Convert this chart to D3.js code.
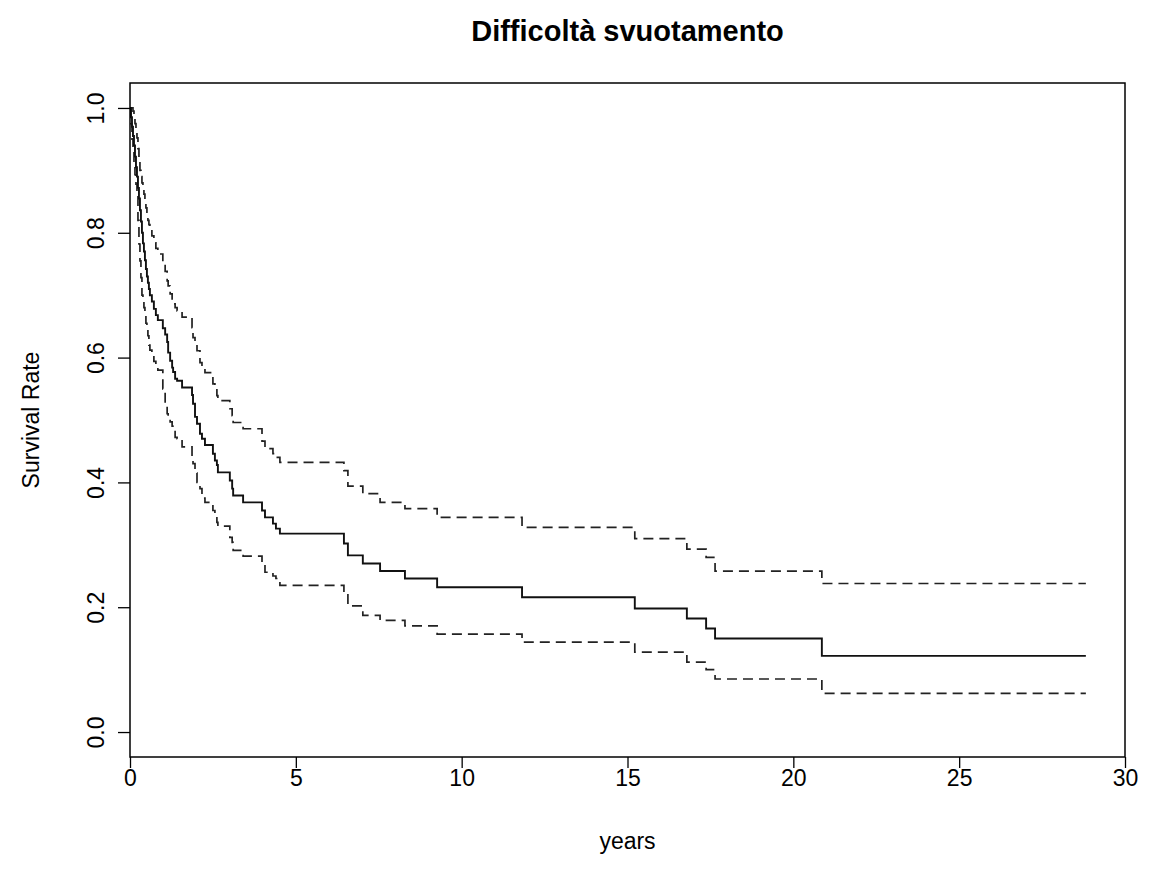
<!DOCTYPE html>
<html>
<head>
<meta charset="utf-8">
<script src="https://cdn.jsdelivr.net/npm/d3@7"></script>
<style>
  body { margin: 0; background: #fff; }
  text { font-family: "Liberation Sans", Arial, sans-serif; fill: #000; }
</style>
</head>
<body>
<svg id="km"></svg>
<script>
// Kaplan-Meier estimate with confidence band.
const times = [0, 0.03, 0.06, 0.09, 0.12, 0.15, 0.18, 0.21, 0.24, 0.27, 0.30,
  0.33, 0.36, 0.39, 0.42, 0.45, 0.48, 0.51, 0.54, 0.57, 0.60, 0.66, 0.72, 0.78,
  0.84, 0.99, 1.06, 1.12, 1.15, 1.21, 1.27, 1.30, 1.36, 1.42, 1.57, 1.87, 1.90,
  1.96, 2.02, 2.11, 2.17, 2.26, 2.50, 2.56, 2.62, 2.65, 3.01, 3.08, 3.11, 3.41,
  3.98, 4.07, 4.31, 4.40, 4.52, 6.45, 6.57, 7.02, 7.54, 8.29, 9.26, 11.82,
  15.22, 16.79, 17.37, 17.64, 20.86];
const survival = [1.0, 0.985, 0.97, 0.955, 0.94, 0.922, 0.905, 0.89, 0.872,
  0.855, 0.836, 0.818, 0.80, 0.783, 0.77, 0.756, 0.742, 0.73, 0.72, 0.71, 0.70,
  0.69, 0.678, 0.668, 0.66, 0.647, 0.637, 0.625, 0.608, 0.595, 0.584, 0.577,
  0.566, 0.563, 0.552, 0.54, 0.526, 0.505, 0.494, 0.478, 0.47, 0.46, 0.446,
  0.435, 0.428, 0.416, 0.403, 0.39, 0.379, 0.368, 0.355, 0.344, 0.334, 0.326,
  0.318, 0.302, 0.283, 0.27, 0.258, 0.246, 0.232, 0.216, 0.198, 0.182, 0.166,
  0.15, 0.122];
const upper = [1.0, 1.0, 1.0, 0.995, 0.985, 0.975, 0.962, 0.952, 0.935, 0.918,
  0.9, 0.89, 0.88, 0.872, 0.862, 0.851, 0.84, 0.827, 0.82, 0.813, 0.806, 0.795,
  0.784, 0.775, 0.766, 0.75, 0.738, 0.723, 0.715, 0.702, 0.692, 0.686, 0.68,
  0.675, 0.665, 0.648, 0.632, 0.622, 0.611, 0.592, 0.584, 0.576, 0.558, 0.55,
  0.539, 0.531, 0.518, 0.507, 0.496, 0.486, 0.466, 0.454, 0.446, 0.44, 0.432,
  0.419, 0.394, 0.382, 0.368, 0.358, 0.344, 0.328, 0.31, 0.293, 0.28, 0.258,
  0.238];
const lower = [1.0, 0.975, 0.95, 0.93, 0.91, 0.893, 0.878, 0.862, 0.82, 0.782,
  0.755, 0.728, 0.70, 0.69, 0.68, 0.667, 0.655, 0.645, 0.635, 0.62, 0.612,
  0.603, 0.594, 0.585, 0.58, 0.55, 0.525, 0.51, 0.503, 0.497, 0.49, 0.485,
  0.472, 0.47, 0.457, 0.44, 0.43, 0.415, 0.40, 0.39, 0.375, 0.368, 0.355,
  0.346, 0.336, 0.33, 0.312, 0.304, 0.291, 0.282, 0.27, 0.256, 0.25, 0.246,
  0.235, 0.224, 0.202, 0.187, 0.179, 0.17, 0.157, 0.144, 0.128, 0.112, 0.1,
  0.085, 0.062];
const lastTime = 28.82;
const xTicks = [0, 5, 10, 15, 20, 25, 30];
const yTicks = [0, 0.2, 0.4, 0.6, 0.8, 1.0];

const W = 1152, H = 884;
const margin = { top: 83, right: 27, bottom: 127, left: 130 };
const width = W - margin.left - margin.right;
const height = H - margin.top - margin.bottom;

const svg = d3.select("#km").attr("width", W).attr("height", H);

const xScale = d3.scaleLinear().domain([0, 30]).range([0, width]);
const yScale = d3.scaleLinear().domain([-0.04, 1.04]).range([height, 0]);

const g = svg.append("g")
  .attr("transform", "translate(" + margin.left + "," + margin.top + ")");

// step curves
function series(vals) {
  const pts = times.map((t, i) => [t, vals[i]]);
  pts.push([lastTime, vals[vals.length - 1]]);
  return pts;
}
const line = d3.line()
  .x(d => xScale(d[0]))
  .y(d => yScale(d[1]))
  .curve(d3.curveStepAfter);

[upper, lower].forEach(v => {
  g.append("path")
    .attr("d", line(series(v)))
    .attr("fill", "none")
    .attr("stroke", "#222")
    .attr("stroke-width", 1.7)
    .attr("stroke-dasharray", "10,6");
});
g.append("path")
  .attr("d", line(series(survival)))
  .attr("fill", "none")
  .attr("stroke", "#111")
  .attr("stroke-width", 1.9);

// axes
const xAxis = g.append("g")
  .attr("transform", "translate(0," + height + ")")
  .call(d3.axisBottom(xScale).tickValues(xTicks).tickSize(11).tickPadding(2)
    .tickFormat(d3.format("d")));
const yAxis = g.append("g")
  .call(d3.axisLeft(yScale).tickValues(yTicks).tickSize(12)
    .tickFormat(d3.format(".1f")));

[xAxis, yAxis].forEach(a => {
  a.select(".domain").remove();
  a.selectAll("line").attr("stroke", "#000").attr("stroke-width", 1.3);
  a.selectAll("text").style("font-size", "23px");
});
yAxis.selectAll("text")
  .attr("transform", "rotate(-90)")
  .attr("text-anchor", "middle")
  .attr("x", 0)
  .attr("y", -26)
  .attr("dy", null);

g.append("rect")
  .attr("width", width).attr("height", height)
  .attr("fill", "none").attr("stroke", "#000").attr("stroke-width", 1.5);

// titles
svg.append("text")
  .attr("x", margin.left + width / 2).attr("y", 41)
  .attr("text-anchor", "middle")
  .style("font-size", "29px").style("font-weight", "bold")
  .text("Difficoltà svuotamento");
svg.append("text")
  .attr("x", margin.left + width / 2).attr("y", 849)
  .attr("text-anchor", "middle")
  .style("font-size", "23px")
  .text("years");
svg.append("text")
  .attr("transform", "translate(39," + (margin.top + height / 2) + ") rotate(-90)")
  .attr("text-anchor", "middle")
  .style("font-size", "23px")
  .text("Survival Rate");
</script>
</body>
</html>
